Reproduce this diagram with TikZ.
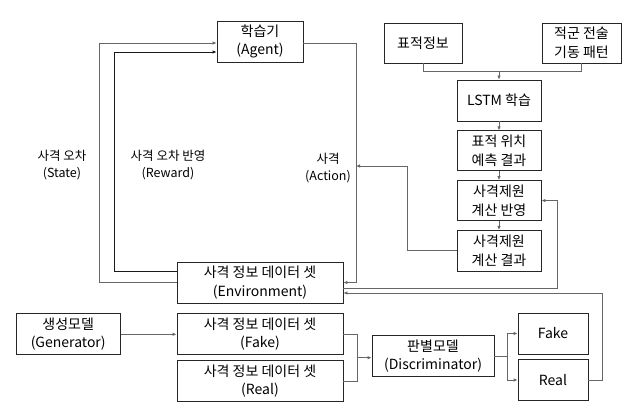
\documentclass[tikz,border=0pt]{standalone}
\usepackage{fontspec}
\setmainfont{Noto Sans CJK KR}
\usetikzlibrary{arrows.meta, positioning, calc}

\begin{document}
\begin{tikzpicture}[
    x=1pt, y=-1pt,
    box/.style={draw=black!85, line width=0.8pt, fill=white, inner sep=1pt,
                minimum height=41pt, align=center,
                font=\fontsize{14}{18.5}\selectfont},
    lbl/.style={align=center, inner sep=1pt,
                font=\fontsize{12.5}{16.5}\selectfont},
    arr/.style={-{Latex[length=4pt,width=3.5pt]}, line width=0.8pt, draw=black!60},
    ln/.style={line width=0.8pt, draw=black!60}
  ]
  \useasboundingbox (0,0) rectangle (635,411);

  % reinforcement loop
  \node[box, minimum width=86pt]  (agent) at (260,41.5) {학습기\\(Agent)};
  \node[box, minimum width=166pt] (env)   at (260,282.5) {사격 정보 데이터 셋\\(Environment)};
  \node[box, minimum width=166pt, below=10pt of env]  (fake) {사격 정보 데이터 셋\\(Fake)};
  \node[box, minimum width=166pt, below=5pt of fake]  (real) {사격 정보 데이터 셋\\(Real)};
  \node[box, minimum width=104pt, left=56pt of fake]  (gen)  {생성모델\\(Generator)};
  \node[box, minimum width=122pt] (disc) at (433,356) {판별모델\\(Discriminator)};
  \node[box, minimum width=70pt]  (fakeout) at (553,333.5) {Fake};
  \node[box, minimum width=70pt]  (realout) at (553,380) {Real};

  % prediction column
  \node[box, minimum width=78pt, minimum height=40pt] (target) at (423,43) {표적정보};
  \node[box, minimum width=79pt, minimum height=40pt] (enemy)  at (581.5,43) {적군 전술\\기동 패턴};
  \node[box, minimum width=84pt]  (lstm) at (499,100.5) {LSTM 학습};
  \node[box, minimum width=84pt, minimum height=40pt, below=9pt of lstm]    (predict) {표적 위치\\예측 결과};
  \node[box, minimum width=84pt, minimum height=40pt, below=9pt of predict] (reflect) {사격제원\\계산 반영};
  \node[box, minimum width=84pt, minimum height=41pt, below=9pt of reflect] (result)  {사격제원\\계산 결과};

  \node[lbl] (statelbl)  at (62,165)  {사격 오차\\(State)};
  \node[lbl] (rewardlbl) at (168,165) {사격 오차 반영\\(Reward)};
  \node[lbl] (actionlbl) at (328,168) {사격\\(Action)};

  \coordinate (actin) at (356,166);
  \coordinate (join) at ($(lstm.north)+(0,-9)$);
  \coordinate (mrg) at ($(fake.east)!0.5!(real.east)+(14,0)$);

  \draw[arr] (env.west) -- ++(-77,0) |- ($(agent.west)+(0,1.5)$);
  \draw[arr, draw=black!90] ($(env.west)+(0,-11)$) -- ++(-62,0) |- ($(agent.west)+(0,10.5)$);
  \draw[arr] ($(agent.east)+(0,1.5)$) -- ++(53,0) |- (env.east);
  \draw[arr] (result.west) -- ++(-49,0) |- (actin);
  \draw[arr] ($(env.east)+(0,5.5)$) -- ++(214,0) |- (reflect.east);
  \draw[arr] (realout.east) -- ++(14,0) |- ($(env.east)+(0,10.5)$);

  \draw[ln] (target.south) -- ++(0,8) -| (enemy.south);
  \draw[arr] (join) -- (lstm.north);
  \draw[arr] (lstm) -- (predict);
  \draw[arr] (predict) -- (reflect);
  \draw[arr] (reflect) -- (result);

  \draw[arr] (gen) -- (fake);
  \draw[ln] (fake.east) -- ++(14,0) |- (real.east);
  \draw[arr] (mrg) -- (mrg -| disc.west);
  \draw[arr] (disc.east) -- ++(13,0) |- (fakeout.west);
  \draw[arr] (disc.east) -- ++(13,0) |- (realout.west);
\end{tikzpicture}
\end{document}
